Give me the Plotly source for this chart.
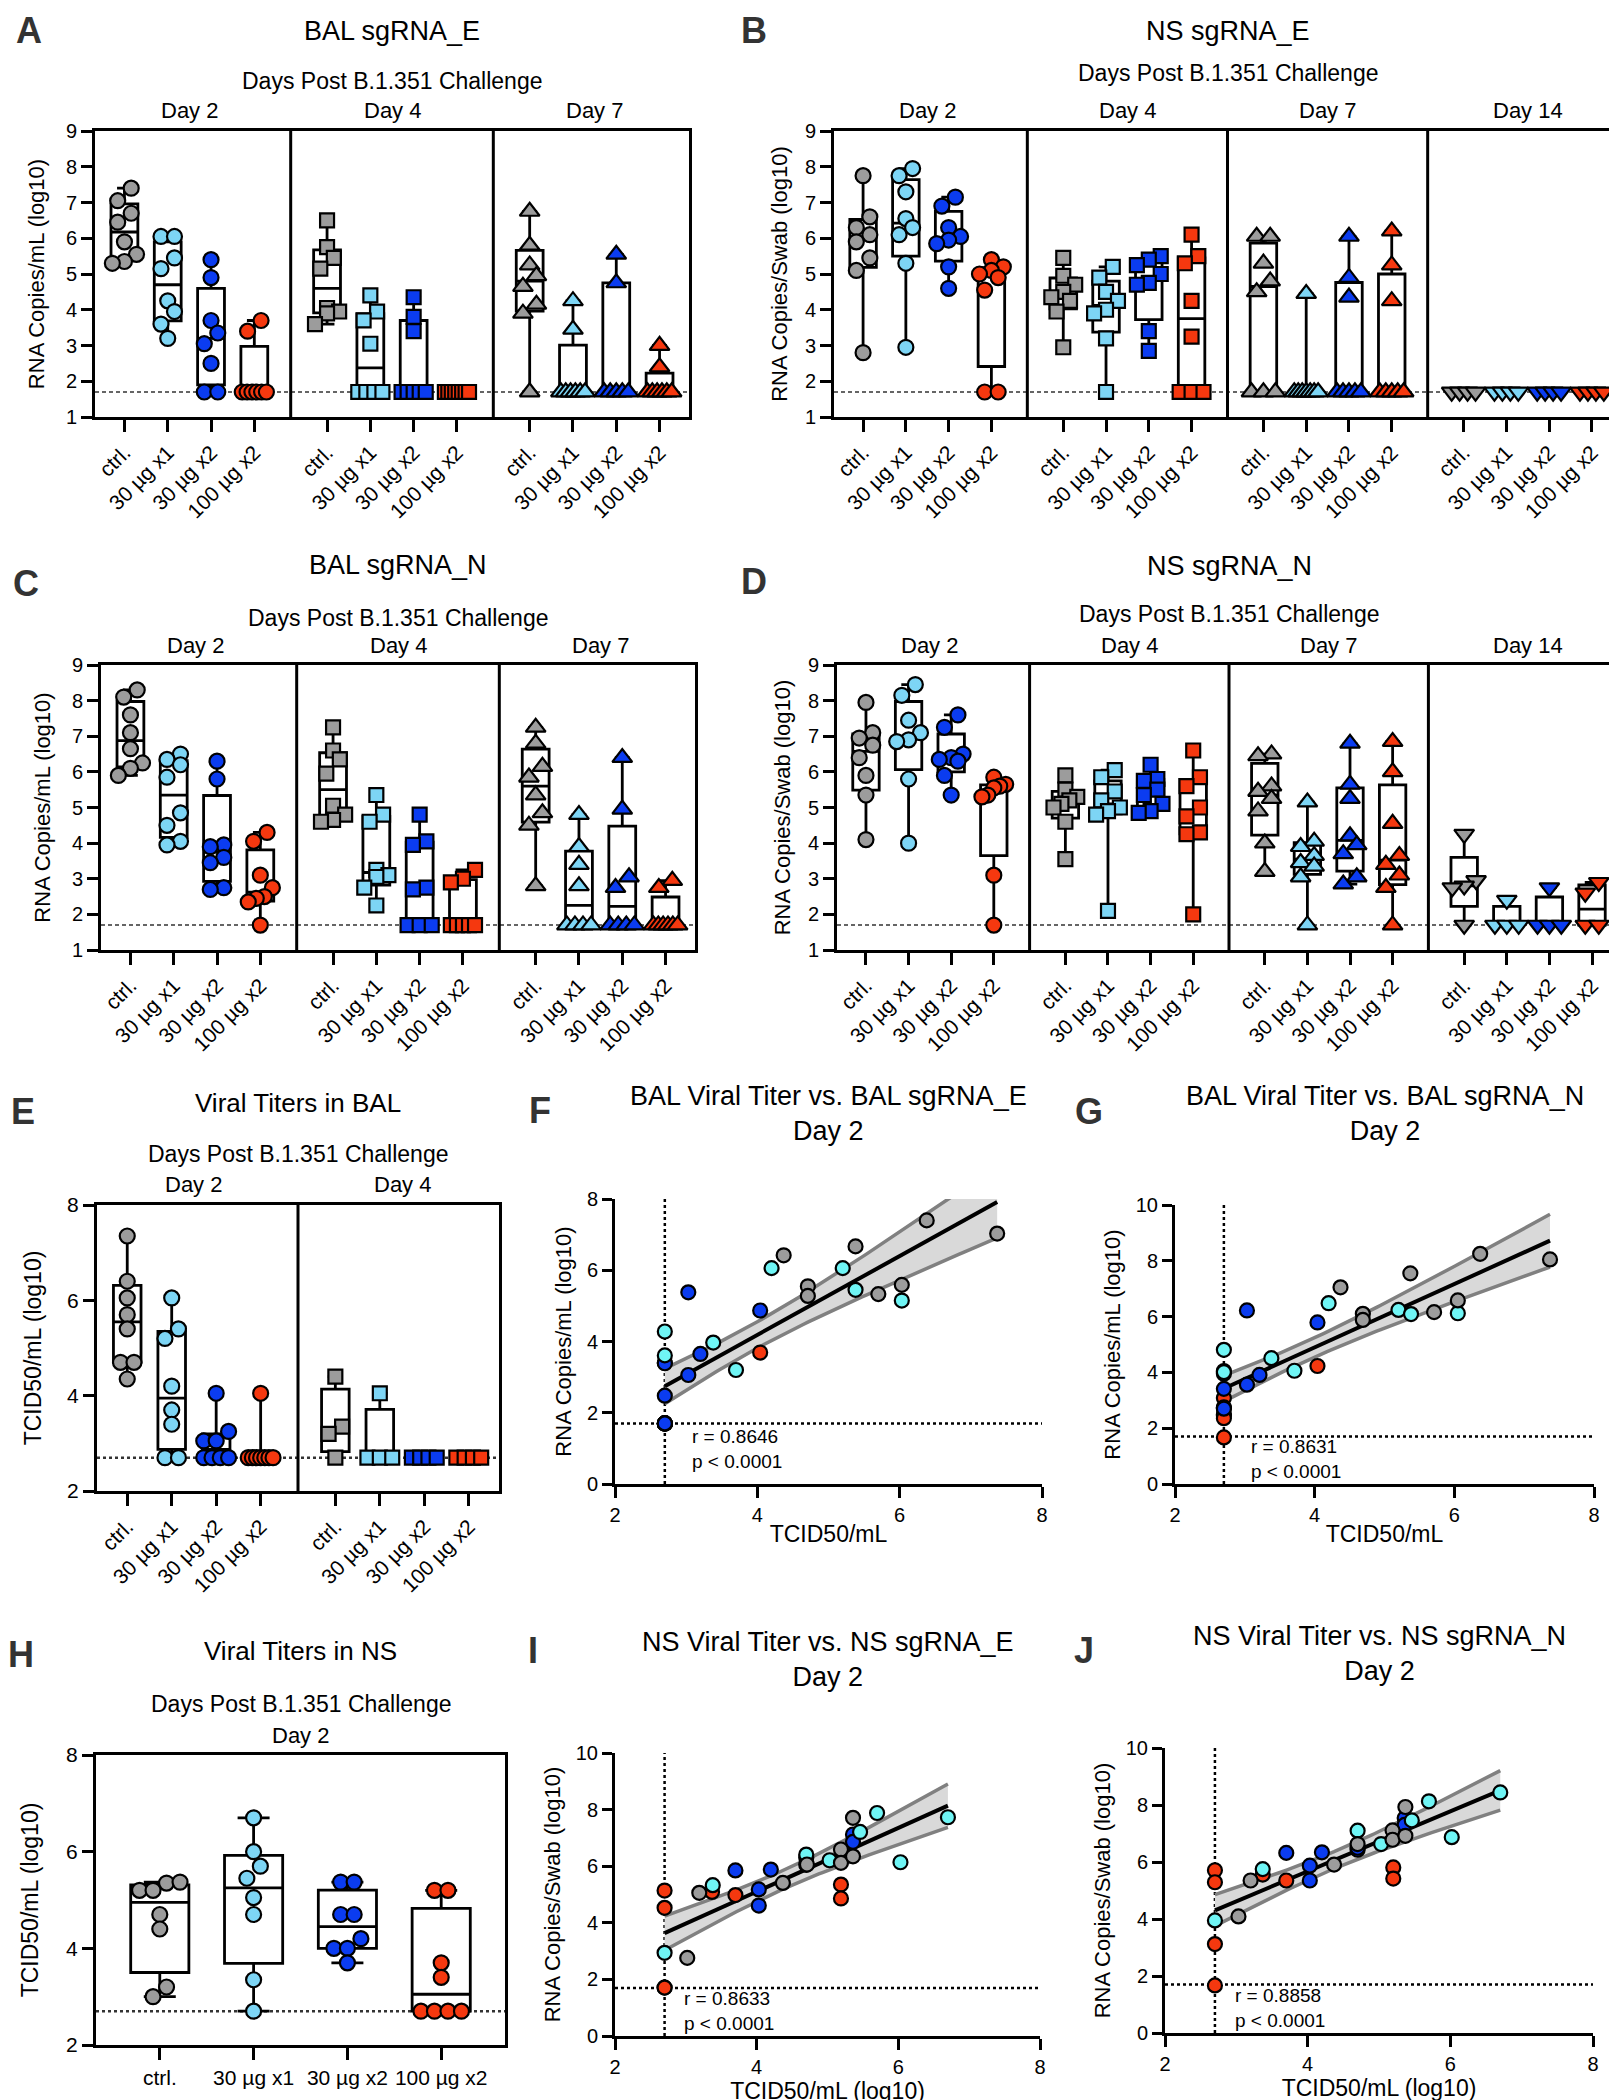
import numpy as np
import plotly.graph_objects as go

W, H = 1617, 2100
FONT = "Liberation Sans, Arial, Helvetica, sans-serif"

GROUPS = ["ctrl.", "30 µg x1", "30 µg x2", "100 µg x2"]
BOX_COLORS = ["#9c9c9c", "#7dd5f5", "#0b3cf0", "#f5380f"]
SC_COLORS = ["#9c9c9c", "#6ff5f5", "#0b3cf0", "#f5380f"]
LOD_RNA = 1.7
LOD_TCID = 2.7

# ---------------- Panel A: BAL sgRNA_E ----------------
A_day2 = [[7.4, 7.05, 6.7, 6.45, 5.9, 5.55, 5.35, 5.3],
          [6.05, 6.05, 5.45, 5.15, 4.25, 3.95, 3.6, 3.2],
          [5.4, 4.9, 3.7, 3.35, 3.05, 2.5, 1.7, 1.7],
          [3.7, 3.4, 1.7, 1.7, 1.7, 1.7, 1.7, 1.7]]
A_day4 = [[6.5, 5.75, 5.45, 5.15, 4.05, 3.95, 3.9, 3.6],
          [4.4, 3.95, 3.7, 3.05, 1.7, 1.7, 1.7, 1.7],
          [4.35, 3.8, 3.4, 1.7, 1.7, 1.7, 1.7, 1.7],
          [1.7, 1.7, 1.7, 1.7, 1.7, 1.7, 1.7, 1.7]]
A_day7 = [[6.75, 5.8, 5.25, 4.95, 4.65, 4.15, 3.9, 1.7],
          [4.25, 3.45, 1.7, 1.7, 1.7, 1.7, 1.7, 1.7],
          [5.55, 4.75, 1.7, 1.7, 1.7, 1.7, 1.7],
          [3.0, 2.4, 1.7, 1.7, 1.7, 1.7, 1.7, 1.7]]

# ---------------- Panel B: NS sgRNA_E ----------------
B_day2 = [[7.75, 6.6, 6.3, 6.1, 5.9, 5.45, 5.1, 2.8],
          [7.95, 7.75, 7.3, 6.55, 6.3, 6.1, 5.3, 2.95],
          [7.15, 6.9, 6.3, 6.05, 5.95, 5.85, 5.2, 4.6],
          [5.4, 5.2, 5.1, 5.0, 4.9, 4.55, 1.7, 1.7]]
B_day4 = [[5.45, 4.95, 4.7, 4.5, 4.35, 4.25, 3.95, 2.95],
          [5.2, 4.9, 4.5, 4.25, 4.0, 3.9, 3.2, 1.7],
          [5.5, 5.4, 5.25, 5.0, 4.75, 4.7, 3.4, 2.85],
          [6.1, 5.5, 5.3, 4.25, 3.25, 1.7, 1.7, 1.7]]
B_day7 = [[6.05, 6.05, 5.3, 4.8, 4.5, 1.7, 1.7, 1.7],
          [4.45, 1.7, 1.7, 1.7, 1.7, 1.7, 1.7, 1.7],
          [6.05, 4.9, 4.35, 1.7, 1.7, 1.7, 1.7, 1.7],
          [6.2, 5.25, 4.25, 1.7, 1.7, 1.7, 1.7, 1.7]]
B_day14 = [[1.7, 1.7, 1.7, 1.7],
           [1.7, 1.7, 1.7, 1.7],
           [1.7, 1.7, 1.7, 1.7],
           [1.7, 1.7, 1.7, 1.7]]

# ---------------- Panel C: BAL sgRNA_N ----------------
C_day2 = [[8.3, 8.1, 7.6, 7.1, 6.65, 6.25, 6.1, 5.9],
          [6.5, 6.35, 6.2, 5.85, 4.85, 4.5, 4.05, 3.95],
          [6.3, 5.8, 3.95, 3.9, 3.6, 3.45, 2.75, 2.7],
          [4.3, 4.05, 3.1, 2.75, 2.5, 2.45, 2.35, 1.7]]
C_day4 = [[7.25, 6.6, 6.35, 5.95, 5.05, 4.8, 4.65, 4.6],
          [5.35, 4.8, 4.6, 3.25, 3.1, 3.05, 2.75, 2.25],
          [4.8, 4.05, 3.95, 2.75, 2.7, 1.7, 1.7, 1.7],
          [3.25, 3.0, 2.9, 1.7, 1.7, 1.7, 1.7, 1.7]]
C_day7 = [[7.25, 6.8, 6.15, 5.85, 5.35, 4.85, 4.5, 2.8],
          [4.8, 3.9, 3.4, 2.8, 1.7, 1.7, 1.7, 1.7],
          [6.4, 4.95, 3.05, 2.75, 1.7, 1.7, 1.7, 1.7],
          [2.95, 2.75, 1.7, 1.7, 1.7, 1.7, 1.7, 1.7]]

# ---------------- Panel D: NS sgRNA_N ----------------
D_day2 = [[7.95, 7.1, 6.95, 6.75, 6.4, 5.9, 5.35, 4.1],
          [8.45, 8.15, 7.45, 7.1, 6.9, 6.85, 5.8, 4.0],
          [7.6, 7.25, 6.5, 6.4, 6.35, 6.3, 5.9, 5.35],
          [5.85, 5.65, 5.6, 5.55, 5.35, 5.3, 3.1, 1.7]]
D_day4 = [[5.9, 5.5, 5.3, 5.2, 5.1, 5.0, 4.6, 3.55],
          [6.05, 5.85, 5.45, 5.2, 5.0, 4.9, 4.8, 2.1],
          [6.2, 5.8, 5.75, 5.5, 5.35, 5.1, 4.9, 4.85],
          [6.6, 5.85, 5.6, 5.0, 4.75, 4.3, 4.25, 2.0]]
D_day7 = [[6.5, 6.45, 5.6, 5.45, 5.25, 4.9, 4.0, 3.2],
          [5.15, 4.05, 3.9, 3.65, 3.45, 3.35, 3.05, 1.7],
          [6.8, 5.65, 5.25, 4.2, 3.95, 3.7, 3.05, 2.85],
          [6.85, 6.0, 4.55, 3.65, 3.4, 3.1, 2.75, 1.7]]
D_day14 = [[4.25, 2.95, 2.8, 2.75, 1.7],
           [2.4, 1.7, 1.7, 1.7],
           [2.75, 1.7, 1.7, 1.7],
           [2.9, 2.6, 1.7, 1.7]]

# ---------------- Panel E: Viral titers in BAL ----------------
E_day2 = [[7.35, 6.4, 6.05, 5.7, 5.4, 4.7, 4.7, 4.35],
          [6.05, 5.4, 5.2, 4.2, 3.7, 3.4, 2.7, 2.7],
          [4.05, 3.25, 3.05, 3.05, 2.7, 2.7, 2.7, 2.7],
          [4.05, 2.7, 2.7, 2.7, 2.7, 2.7, 2.7, 2.7]]
E_day4 = [[4.4, 3.35, 3.2, 2.7],
          [4.05, 2.7, 2.7, 2.7],
          [2.7, 2.7, 2.7, 2.7],
          [2.7, 2.7, 2.7, 2.7]]

# ---------------- Panel H: Viral titers in NS ----------------
H_day2 = [[5.2, 5.35, 5.2, 5.37, 4.7, 4.4, 3.2, 3.0],
          [6.7, 6.0, 5.7, 5.45, 5.05, 4.7, 3.35, 2.7],
          [5.37, 5.37, 4.7, 4.7, 4.2, 4.0, 4.0, 3.7],
          [5.2, 5.2, 3.7, 3.4, 2.7, 2.7, 2.7, 2.7]]

# ---------------- Correlation panels (per group: ctrl, 30x1, 30x2, 100x2) ----------------
F_x = [[6.38, 7.37, 5.38, 4.37, 4.71, 4.71, 5.70, 6.03],
       [4.2, 5.2, 5.38, 6.03, 3.38, 3.70, 2.7, 2.7],
       [3.03, 4.04, 3.2, 3.03, 2.7, 2.7, 2.7, 2.7],
       [4.04, 2.7, 2.7, 2.7, 2.7, 2.7, 2.7, 2.7]]
F_y = [[7.40, 7.03, 6.67, 6.42, 5.55, 5.28, 5.33, 5.59],
       [6.06, 6.06, 5.45, 5.15, 3.97, 3.2, 4.28, 3.61],
       [5.38, 4.87, 3.65, 3.06, 3.39, 2.48, 1.7, 1.7],
       [3.69, 3.4, 1.7, 1.7, 1.7, 1.7, 1.7, 1.7]]

G_x = [[6.37, 7.37, 5.37, 4.37, 4.69, 4.69, 5.71, 6.05],
       [4.2, 5.2, 5.38, 6.05, 3.38, 3.71, 2.7, 2.7],
       [3.03, 4.04, 3.21, 3.03, 2.7, 2.7, 2.7, 2.7],
       [4.04, 2.7, 2.7, 2.7, 2.7, 2.7, 2.7, 2.7]]
G_y = [[8.25, 8.05, 7.55, 7.05, 6.1, 5.88, 6.16, 6.58],
       [6.48, 6.24, 6.09, 6.12, 4.51, 4.06, 4.81, 4.01],
       [6.22, 5.79, 3.91, 3.56, 3.41, 2.72, 3.95, 2.7],
       [4.23, 4.05, 3.08, 2.75, 2.5, 2.45, 2.36, 1.67]]

I_x = [[5.36, 5.19, 5.19, 5.36, 4.71, 4.37, 3.19, 3.02],
       [5.7, 6.7, 5.46, 4.7, 5.03, 6.03, 3.38, 2.7],
       [5.36, 5.36, 3.70, 4.2, 4.03, 4.03, 4.7, 4.7],
       [2.7, 2.7, 3.7, 5.19, 5.19, 3.37, 2.7, 2.7]]
I_y = [[7.71, 6.59, 6.12, 6.35, 6.06, 5.41, 5.06, 2.76],
       [7.88, 7.73, 7.21, 6.41, 6.21, 6.14, 5.33, 2.94],
       [7.12, 6.86, 5.85, 5.88, 5.18, 4.61, 6.3, 6.05],
       [5.14, 4.53, 4.98, 5.35, 4.86, 5.09, 1.71, 1.71]]

J_x = [[5.37, 5.19, 5.19, 5.37, 4.70, 4.37, 3.2, 3.03],
       [5.7, 6.7, 5.46, 4.7, 5.03, 6.02, 3.37, 2.7],
       [5.36, 5.36, 3.7, 4.2, 4.03, 4.03, 4.7, 4.7],
       [2.7, 2.7, 2.7, 2.7, 3.7, 5.2, 5.2, 3.37]]
J_y = [[7.93, 7.11, 6.78, 6.92, 6.63, 5.91, 5.35, 4.09],
       [8.13, 8.44, 7.46, 7.1, 6.63, 6.87, 5.75, 3.95],
       [7.54, 7.3, 6.32, 6.34, 5.87, 5.35, 6.43, 6.5],
       [5.71, 5.29, 3.12, 1.67, 5.35, 5.81, 5.42, 5.56]]

T95 = 2.042  # two-sided 95% t quantile, df = 30

# ---------------- layout helpers ----------------
DAYSTEP = 4.68
PAD = 0.68
BOXW = 0.62

fig = go.Figure()
layout_axes = {}
shapes = []
annotations = []
count = [0]


def axes_pair(rect):
    x0, y0, x1, y1 = rect
    count[0] += 1
    i = count[0]
    sfx = "" if i == 1 else str(i)
    return ("xaxis" + sfx, "yaxis" + sfx, "x" + sfx, "y" + sfx,
            [x0 / W, x1 / W], [1 - y1 / H, 1 - y0 / H])


def ann(text, x, y, size, xref="paper", yref="paper", xanchor="center",
        yanchor="middle", color="black", align="center"):
    annotations.append(dict(text=text, x=x, y=y, xref=xref, yref=yref,
                            xanchor=xanchor, yanchor=yanchor, showarrow=False,
                            align=align,
                            font=dict(family=FONT, size=size, color=color)))


def px_ann(text, xpx, ypx, size, **kw):
    ann(text, xpx / W, 1 - ypx / H, size, **kw)


def letter(text, xpx, ypx):
    px_ann("<b>%s</b>" % text, xpx, ypx, 36, color="#333333")


def swarm(vals, pos, xpu, ypu, d, maxw):
    order = np.argsort(vals, kind="stable")
    xs = np.full(len(vals), float(pos))
    rows = []
    for idx in order:
        if rows and (vals[idx] - vals[rows[-1][0]]) * ypu < d * 0.95:
            rows[-1].append(idx)
        else:
            rows.append([idx])
    for row in rows:
        k = len(row)
        if k == 1:
            continue
        s = min(d * 0.9, maxw / (k - 1))
        for j, idx in enumerate(row):
            xs[idx] = pos + (j - (k - 1) / 2) * s / xpu
    return xs


SYM_SIZE = {"circle": 1.0, "square": 0.93, "triangle-up": 1.15, "triangle-down": 1.15}


def box_panel(days, day_names, symbols, rect, yrange, yticks, ylabel, title,
              title_y, dpc_y, day_y, lod, lod_dash, lod_w, let, let_xy, d,
              tickangle=-45, title_size=27, sub_size=23, day_size=22, tick_size=20,
              cat_size=21, ylab_size=22, standoff=14, maxw_frac=0.9):
    xa, ya, xr, yr, xd, yd = axes_pair(rect)
    x0, y0, x1, y1 = rect
    nd = len(days)
    xmin = -PAD
    xmax = (nd - 1) * DAYSTEP + 3 + PAD
    xpu = (x1 - x0) / (xmax - xmin)
    ypu = (y1 - y0) / (yrange[1] - yrange[0])
    tickvals, ticktext = [], []
    for di, groups in enumerate(days):
        for gi, vals in enumerate(groups):
            pos = di * DAYSTEP + gi
            v = np.array(vals, float)
            q1, med, q3 = np.percentile(v, [25, 50, 75], method="weibull")
            fig.add_trace(go.Box(
                x=[pos], q1=[q1], median=[med], q3=[q3],
                lowerfence=[v.min()], upperfence=[v.max()],
                xaxis=xr, yaxis=yr, width=BOXW, fillcolor="white",
                line=dict(color="black", width=2.8), whiskerwidth=0.55,
                boxpoints=False, hoverinfo="skip", showlegend=False))
            xs = swarm(v, pos, xpu, ypu, d, BOXW * xpu * maxw_frac)
            fig.add_trace(go.Scatter(
                x=xs, y=v, mode="markers", xaxis=xr, yaxis=yr,
                marker=dict(symbol=symbols[di], size=d * SYM_SIZE[symbols[di]],
                            color=BOX_COLORS[gi],
                            line=dict(color="black", width=2.2)),
                hoverinfo="skip", showlegend=False, cliponaxis=False))
            tickvals.append(pos)
            ticktext.append(GROUPS[gi])
        ann(day_names[di], di * DAYSTEP + 1.5, 1 - day_y / H, day_size, xref=xr)
    for di in range(1, nd):
        sep = di * DAYSTEP - (DAYSTEP - 3) / 2
        shapes.append(dict(type="line", xref=xr, yref=yr + " domain", x0=sep, x1=sep,
                           y0=0, y1=1, line=dict(color="black", width=3), layer="above"))
    shapes.append(dict(type="line", xref=xr + " domain", yref=yr, x0=0, x1=1,
                       y0=lod, y1=lod, line=dict(color="#333333", width=lod_w, dash=lod_dash),
                       layer="below"))
    cx = (x0 + x1) / 2
    px_ann(title, cx, title_y, title_size)
    px_ann("Days Post B.1.351 Challenge", cx, dpc_y, sub_size)
    letter(let, *let_xy)
    layout_axes[xa] = dict(domain=xd, anchor=yr, range=[xmin, xmax], tickmode="array",
                           tickvals=tickvals, ticktext=ticktext, tickangle=tickangle,
                           showline=True, linecolor="black", linewidth=3, mirror=True,
                           ticks="outside", ticklen=12, tickwidth=2.5, tickcolor="black",
                           showgrid=False, zeroline=False, automargin=False,
                           tickfont=dict(family=FONT, size=cat_size, color="black"))
    layout_axes[ya] = dict(domain=yd, anchor=xr, range=yrange, tickmode="array",
                           tickvals=yticks, showline=True, linecolor="black", linewidth=3,
                           mirror=True, ticks="outside", ticklen=11, tickwidth=2.5,
                           tickcolor="black", showgrid=False, zeroline=False,
                           automargin=False,
                           tickfont=dict(family=FONT, size=tick_size, color="black"),
                           title=dict(text=ylabel, standoff=standoff,
                                      font=dict(family=FONT, size=ylab_size, color="black")))


def scatter_panel(xs_list, ys_list, rect, yrange, yticks, xlabel, ylabel, title,
                  title_y, rtext, r_xy, let, let_xy, d=14):
    xa, ya, xr, yr, xd, yd = axes_pair(rect)
    x0, y0, x1, y1 = rect
    shapes.append(dict(type="line", xref=xr, yref=yr, x0=LOD_TCID, x1=LOD_TCID,
                       y0=yrange[0], y1=yrange[1],
                       line=dict(color="black", width=2.5, dash="dot"), layer="below"))
    shapes.append(dict(type="line", xref=xr, yref=yr, x0=2, x1=8, y0=LOD_RNA, y1=LOD_RNA,
                       line=dict(color="black", width=2.5, dash="dot"), layer="below"))
    allx = np.concatenate([np.array(v, float) for v in xs_list])
    ally = np.concatenate([np.array(v, float) for v in ys_list])
    b, a = np.polyfit(allx, ally, 1)
    n = len(allx)
    xm = allx.mean()
    sxx = ((allx - xm) ** 2).sum()
    s = np.sqrt(((ally - (a + b * allx)) ** 2).sum() / (n - 2))
    xg = np.linspace(allx.min(), allx.max(), 80)
    yg = a + b * xg
    half = T95 * s * np.sqrt(1.0 / n + (xg - xm) ** 2 / sxx)
    fig.add_trace(go.Scatter(x=xg, y=yg + half, mode="lines", xaxis=xr, yaxis=yr,
                             line=dict(color="#808080", width=3.5),
                             hoverinfo="skip", showlegend=False))
    fig.add_trace(go.Scatter(x=xg, y=yg - half, mode="lines", xaxis=xr, yaxis=yr,
                             line=dict(color="#808080", width=3.5), fill="tonexty",
                             fillcolor="#d9d9d9", hoverinfo="skip", showlegend=False))
    fig.add_trace(go.Scatter(x=xg, y=yg, mode="lines", xaxis=xr, yaxis=yr,
                             line=dict(color="black", width=4),
                             hoverinfo="skip", showlegend=False))
    for gi in [3, 2, 1, 0]:
        fig.add_trace(go.Scatter(x=xs_list[gi], y=ys_list[gi], mode="markers",
                                 xaxis=xr, yaxis=yr,
                                 marker=dict(symbol="circle", size=d, color=SC_COLORS[gi],
                                             line=dict(color="black", width=2.2)),
                                 hoverinfo="skip", showlegend=False, cliponaxis=False))
    ann(rtext, r_xy[0], r_xy[1], 19, xref=xr, yref=yr, xanchor="left", align="left")
    cx = (x0 + x1) / 2
    px_ann(title, cx, title_y, 27)
    letter(let, *let_xy)
    layout_axes[xa] = dict(domain=xd, anchor=yr, range=[2, 8], tickmode="array",
                           tickvals=[2, 4, 6, 8], showline=True, linecolor="black",
                           linewidth=3, ticks="outside", ticklen=11, tickwidth=2.5,
                           tickcolor="black", showgrid=False, zeroline=False,
                           automargin=False,
                           tickfont=dict(family=FONT, size=20, color="black"),
                           title=dict(text=xlabel, standoff=1,
                                      font=dict(family=FONT, size=23, color="black")))
    layout_axes[ya] = dict(domain=yd, anchor=xr, range=yrange, tickmode="array",
                           tickvals=yticks, showline=True, linecolor="black", linewidth=3,
                           ticks="outside", ticklen=10, tickwidth=2.5, tickcolor="black",
                           showgrid=False, zeroline=False, automargin=False,
                           tickfont=dict(family=FONT, size=20, color="black"),
                           title=dict(text=ylabel, standoff=10,
                                      font=dict(family=FONT, size=22, color="black")))


RNA_TICKS = [1, 2, 3, 4, 5, 6, 7, 8, 9]
D3 = ["Day 2", "Day 4", "Day 7"]
D4 = ["Day 2", "Day 4", "Day 7", "Day 14"]
SYM3 = ["circle", "square", "triangle-up"]
SYM4 = ["circle", "square", "triangle-up", "triangle-down"]

box_panel([A_day2, A_day4, A_day7], D3, SYM3, (87, 123, 681, 409), [1, 9], RNA_TICKS,
          "RNA Copies/mL (log10)", "BAL sgRNA_E", 23, 73, 103, LOD_RNA, "4px,3px", 1.6,
          "A", (21, 23), 15, standoff=16)
box_panel([B_day2, B_day4, B_day7, B_day14], D4, SYM4, (826, 123, 1613, 409), [1, 9],
          RNA_TICKS, "RNA Copies/Swab (log10)", "NS sgRNA_E", 23, 65, 103, LOD_RNA,
          "4px,3px", 1.6, "B", (746, 23), 15, standoff=12)
box_panel([C_day2, C_day4, C_day7], D3, SYM3, (93, 657, 687, 942), [1, 9], RNA_TICKS,
          "RNA Copies/mL (log10)", "BAL sgRNA_N", 557, 610, 637, LOD_RNA, "4px,3px", 1.6,
          "C", (18, 575), 15, standoff=16)
box_panel([D_day2, D_day4, D_day7, D_day14], D4, SYM4, (829, 657, 1613, 942), [1, 9],
          RNA_TICKS, "RNA Copies/Swab (log10)", "NS sgRNA_N", 558, 606, 637, LOD_RNA,
          "4px,3px", 1.6, "D", (746, 573), 15, standoff=12)
box_panel([E_day2, E_day4], ["Day 2", "Day 4"], ["circle", "square"], (89, 1197, 491, 1483),
          [2, 8], [2, 4, 6, 8], "TCID50/mL (log10)", "Viral Titers in BAL", 1095, 1146, 1176,
          LOD_TCID, "dot", 2.5, "E", (15, 1103), 15, title_size=26, sub_size=23,
          day_size=22, tick_size=21, cat_size=21, ylab_size=23, standoff=20)
box_panel([H_day2], ["Day 2"], ["circle"], (88, 1747, 497, 2037), [2, 8], [2, 4, 6, 8],
          "TCID50/mL (log10)", "Viral Titers in NS", 1643, 1696, 1727, LOD_TCID, "dot", 2.5,
          "H", (13, 1646), 15, tickangle=0, title_size=26, sub_size=23, day_size=22,
          tick_size=21, cat_size=21, ylab_size=23, standoff=22)

scatter_panel(F_x, F_y, (607, 1191, 1034, 1476), [0, 8], [0, 2, 4, 6, 8], "TCID50/mL",
              "RNA Copies/mL (log10)", "BAL Viral Titer vs. BAL sgRNA_E<br>Day 2", 1105,
              "r = 0.8646<br>p < 0.0001", (3.05, 0.97), "F", (532, 1102))
scatter_panel(G_x, G_y, (1167, 1197, 1586, 1476), [0, 10], [0, 2, 4, 6, 8, 10], "TCID50/mL",
              "RNA Copies/mL (log10)", "BAL Viral Titer vs. BAL sgRNA_N<br>Day 2", 1105,
              "r = 0.8631<br>p < 0.0001", (3.06, 0.88), "G", (1081, 1103))
scatter_panel(I_x, I_y, (607, 1745, 1032, 2028), [0, 10], [0, 2, 4, 6, 8, 10],
              "TCID50/mL (log10)", "RNA Copies/Swab (log10)",
              "NS Viral Titer vs. NS sgRNA_E<br>Day 2", 1651,
              "r = 0.8633<br>p < 0.0001", (2.95, 0.9), "I", (525, 1642))
scatter_panel(J_x, J_y, (1157, 1740, 1585, 2025), [0, 10], [0, 2, 4, 6, 8, 10],
              "TCID50/mL (log10)", "RNA Copies/Swab (log10)",
              "NS Viral Titer vs. NS sgRNA_N<br>Day 2", 1645,
              "r = 0.8858<br>p < 0.0001", (2.96, 0.88), "J", (1076, 1642))

fig.update_layout(width=W, height=H, margin=dict(l=0, r=0, t=0, b=0, autoexpand=False),
                  paper_bgcolor="white", plot_bgcolor="white", showlegend=False,
                  font=dict(family=FONT, color="black"), shapes=shapes,
                  annotations=annotations, boxmode="overlay", **layout_axes)

fig.write_html("out.html")
